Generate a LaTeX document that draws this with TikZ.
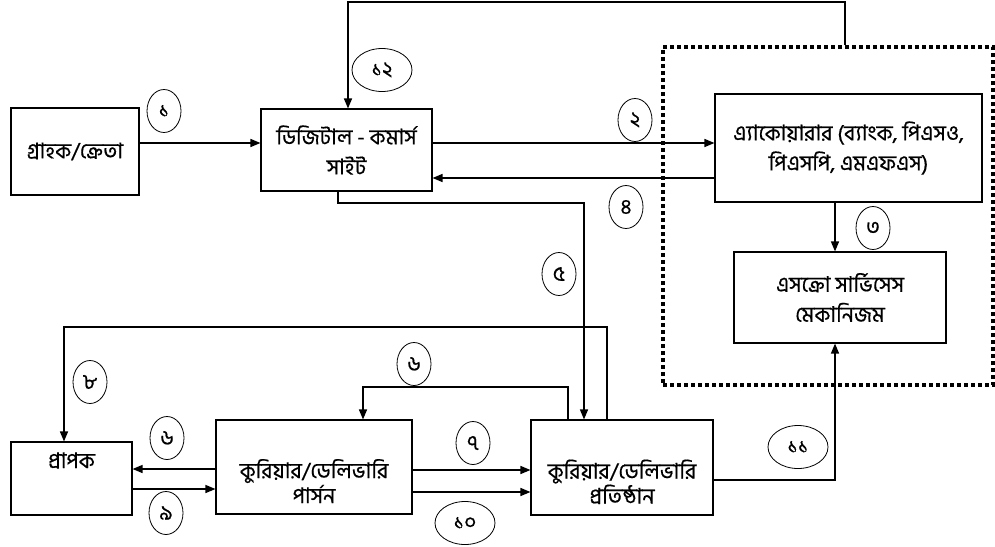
\documentclass[tikz,border=0pt]{standalone}
\usepackage{fontspec}
\setmainfont[Script=Bengali,FakeBold=0.5]{Hind Siliguri}
\usetikzlibrary{positioning,calc,arrows.meta,shapes.geometric}

\begin{document}
\begin{tikzpicture}[
    x=1pt, y=-1pt,
    box/.style={draw, line width=1.1pt, inner sep=0pt, align=center, font=\fontsize{21.5}{30}\selectfont},
    frame/.style={draw, line width=3.6pt, dash pattern=on 4pt off 3pt, inner sep=0pt},
    arr/.style={draw, line width=1.4pt, -{Triangle[length=10pt,width=8pt]}},
    num/.style={ellipse, draw, line width=0.8pt, minimum width=34pt, minimum height=43pt, inner sep=0pt, font=\fontsize{21}{21}\selectfont},
    wide/.style={minimum width=60pt}
]
\useasboundingbox (0,0) rectangle (995,546);

% Define node positions
\node[frame, minimum width=330pt, minimum height=338pt] (frame) at (828,216) {};
\node[box, minimum width=128pt, minimum height=87pt] (cust) at (75,151.5) {গ্রাহক/ক্রেতা};
\node[box, minimum width=171pt, minimum height=82pt] (site) at (346.5,150) {ডিজিটাল - কমার্স\\সাইট};
\node[box, minimum width=267pt, minimum height=108pt] (acq) at (848.5,148) {এ্যাকোয়ারার (ব্যাংক, পিএসও,\\পিএসপি, এমএফএস)};
\node[box, minimum width=212pt, minimum height=91pt] (escrow) at (840,297.5) {এসক্রো সার্ভিসেস\\মেকানিজম};
\node[box, minimum width=121pt, minimum height=73pt, text height=12pt, text depth=33pt] (recv) at (71.5,478.5) {প্রাপক};
\node[box, minimum width=196pt, minimum height=94pt, text height=80pt, text depth=8pt] (parcel) at (314,467) {কুরিয়ার/ডেলিভারি\\[-5pt]পার্সন};
\node[box, minimum width=182pt, minimum height=95pt, text height=80pt, text depth=8pt] (courier) at (622,467.5) {কুরিয়ার/ডেলিভারি\\[-5pt]প্রতিষ্ঠান};

% Step numbers
\node[num] (n1) at (164,111) {১};
\node[num] (n2) at (635,120) {২};
\node[num] (n3) at (873,228) {৩};
\node[num] (n4) at (626,207) {৪};
\node[num] (n5) at (559,274) {৫};
\node[num] (n6a) at (414,364) {৬};
\node[num] (n6b) at (167,438) {৬};
\node[num] (n7) at (473,443) {৭};
\node[num] (n8) at (90,382) {৮};
\node[num] (n9) at (166,513) {৯};
\node[num, wide] (n10) at (465,523) {১০};
\node[num, wide] (n11) at (798,447) {১১};
\node[num, wide] (n12) at (382,70) {১২};

% Draw connectors
\draw[arr] (cust.east |- 0,143) -- (site.west |- 0,143);
\draw[arr] (site.east |- 0,143) -- (acq.west |- 0,143);
\draw[arr] (acq.west |- 0,178) -- (site.east |- 0,178);
\draw[arr] (acq.south -| 835,0) -- (escrow.north -| 835,0);
\draw[arr] (frame.north -| 845,0) -- (845,2) -| (site.north -| 348,0);
\draw[arr] (site.south -| 338,0) |- (584,203) -- (courier.north -| 584,0);
\draw[arr] (courier.north -| 607,0) |- (64,327) -- (recv.north -| 64,0);
\draw[arr] (courier.north -| 568,0) |- (363,387) -- (parcel.north -| 363,0);
\draw[arr] (parcel.west |- 0,469) -- (recv.east |- 0,469);
\draw[arr] (recv.east |- 0,489) -- (parcel.west |- 0,489);
\draw[arr] (parcel.east |- 0,470) -- (courier.west |- 0,470);
\draw[arr] (parcel.east |- 0,492) -- (courier.west |- 0,492);
\draw[arr] (courier.east |- 0,480) -| (escrow.south -| 835,0);

\end{tikzpicture}
\end{document}
